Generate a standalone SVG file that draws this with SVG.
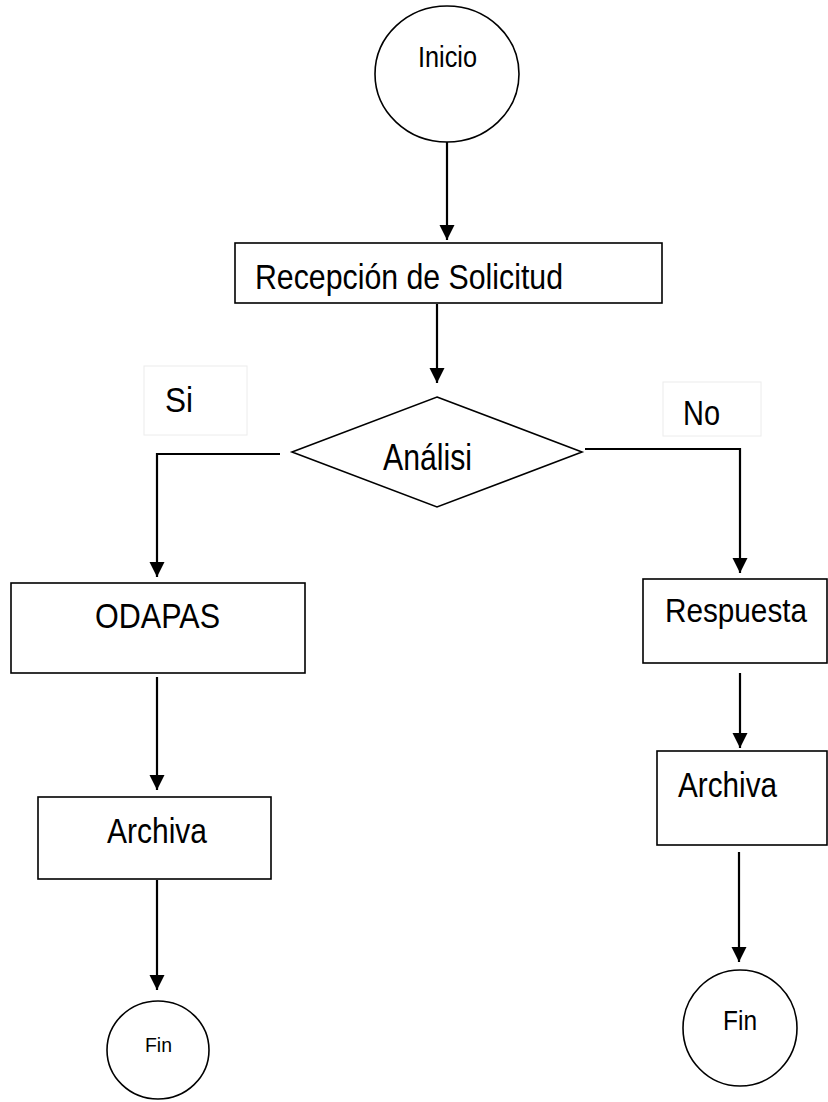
<svg xmlns="http://www.w3.org/2000/svg" width="828" height="1102" viewBox="0 0 828 1102">
<defs>
<marker id="arr" markerUnits="userSpaceOnUse" markerWidth="16" markerHeight="16" refX="15" refY="8" orient="auto">
<path d="M0,0.5 L15,8 L0,15.5 Z" fill="#000"/>
</marker>
<style>
.box{fill:#fff;stroke:#000;stroke-width:1.6}
.lbl{fill:#fff;stroke:#ececec;stroke-width:1}
.t{font-family:"Liberation Sans",Arial,sans-serif;fill:#000}
.c{fill:none;stroke:#000;stroke-width:2.2}
</style>
</defs>
<rect width="828" height="1102" fill="#fff"/>
<g id="connectors">
<line class="c" x1="447" y1="142" x2="447" y2="240" marker-end="url(#arr)"/>
<line class="c" x1="437" y1="304" x2="437" y2="383" marker-end="url(#arr)"/>
<polyline class="c" points="280,454 157,454 157,577" marker-end="url(#arr)"/>
<polyline class="c" points="585,449 740,449 740,573" marker-end="url(#arr)"/>
<line class="c" x1="157" y1="677" x2="157" y2="790" marker-end="url(#arr)"/>
<line class="c" x1="157" y1="880" x2="157" y2="990" marker-end="url(#arr)"/>
<line class="c" x1="740" y1="673" x2="740" y2="748" marker-end="url(#arr)"/>
<line class="c" x1="739" y1="852" x2="739" y2="962" marker-end="url(#arr)"/>
</g>
<g id="inicio">
<ellipse class="box" cx="447" cy="74" rx="72" ry="68"/>
<text class="t" x="418" y="67" font-size="30" textLength="59" lengthAdjust="spacingAndGlyphs">Inicio</text>
</g>
<g id="recepcion">
<rect class="box" x="235" y="243" width="427" height="60"/>
<text class="t" x="255" y="289" font-size="35" textLength="308" lengthAdjust="spacingAndGlyphs">Recepción de Solicitud</text>
</g>
<g id="label-si">
<rect class="lbl" x="144" y="366" width="103" height="69"/>
<text class="t" x="165" y="412" font-size="35" textLength="28" lengthAdjust="spacingAndGlyphs">Si</text>
</g>
<g id="label-no">
<rect class="lbl" x="663" y="382" width="98" height="54"/>
<text class="t" x="683" y="425" font-size="35" textLength="37" lengthAdjust="spacingAndGlyphs">No</text>
</g>
<g id="analisi">
<polygon class="box" points="437,397 582,452 437,507 292,452"/>
<text class="t" x="383" y="470" font-size="36" textLength="89" lengthAdjust="spacingAndGlyphs">Análisi</text>
</g>
<g id="odapas">
<rect class="box" x="11" y="583" width="294" height="90"/>
<text class="t" x="95" y="628" font-size="35" textLength="125" lengthAdjust="spacingAndGlyphs">ODAPAS</text>
</g>
<g id="respuesta">
<rect class="box" x="643" y="579" width="184" height="84"/>
<text class="t" x="665" y="622" font-size="34" textLength="142" lengthAdjust="spacingAndGlyphs">Respuesta</text>
</g>
<g id="archiva-left">
<rect class="box" x="38" y="797" width="233" height="82"/>
<text class="t" x="107" y="843" font-size="35" textLength="100" lengthAdjust="spacingAndGlyphs">Archiva</text>
</g>
<g id="archiva-right">
<rect class="box" x="657" y="751" width="170" height="94"/>
<text class="t" x="678" y="797" font-size="35" textLength="99" lengthAdjust="spacingAndGlyphs">Archiva</text>
</g>
<g id="fin-left">
<ellipse class="box" cx="158" cy="1050" rx="51" ry="49"/>
<text class="t" x="145" y="1052" font-size="20" textLength="27" lengthAdjust="spacingAndGlyphs">Fin</text>
</g>
<g id="fin-right">
<ellipse class="box" cx="740" cy="1028" rx="57" ry="58"/>
<text class="t" x="723" y="1030" font-size="27" textLength="34" lengthAdjust="spacingAndGlyphs">Fin</text>
</g>
</svg>
